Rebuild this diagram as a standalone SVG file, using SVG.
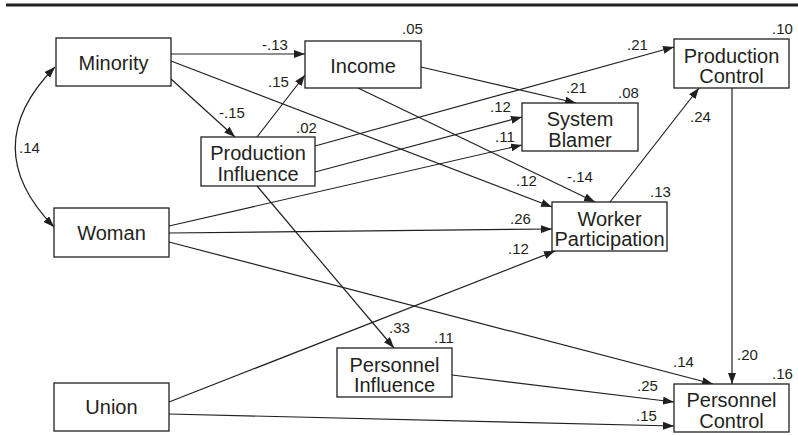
<svg xmlns="http://www.w3.org/2000/svg" width="798" height="436" viewBox="0 0 798 436">
<defs>
<marker id="ah" markerUnits="userSpaceOnUse" markerWidth="12" markerHeight="8" refX="11" refY="4" orient="auto-start-reverse">
<path d="M0,0 L11,4 L0,8 z" fill="#231f20"/>
</marker>
<style>
.box{fill:#fff;stroke:#231f20;stroke-width:1.3}
.nt{font-family:"Liberation Sans",Arial,sans-serif;font-size:20px;fill:#231f20;text-anchor:middle}
.lb{font-family:"Liberation Sans",Arial,sans-serif;font-size:15px;fill:#231f20}
.cn{fill:none;stroke:#231f20;stroke-width:1.2;marker-end:url(#ah)}
</style>
</defs>
<rect width="798" height="436" fill="#fff"/>
<line x1="6" y1="5" x2="798" y2="5" stroke="#231f20" stroke-width="3"/>
<g id="connectors">
<line class="cn" x1="171" y1="54" x2="305" y2="54"/>
<line class="cn" x1="257" y1="137" x2="305" y2="75"/>
<line class="cn" x1="171" y1="79" x2="235" y2="137"/>
<line class="cn" x1="171" y1="61" x2="552" y2="207"/>
<line class="cn" x1="358" y1="88" x2="595" y2="202"/>
<line class="cn" x1="421" y1="67" x2="576" y2="103"/>
<line class="cn" x1="315" y1="146" x2="674" y2="47"/>
<line class="cn" x1="315" y1="172" x2="522" y2="117"/>
<line class="cn" x1="169" y1="226" x2="522" y2="145"/>
<line class="cn" x1="169" y1="233" x2="552" y2="229"/>
<line class="cn" x1="169" y1="242" x2="713" y2="384"/>
<line class="cn" x1="169" y1="402" x2="555" y2="251"/>
<line class="cn" x1="169" y1="414" x2="674" y2="426"/>
<line class="cn" x1="452" y1="375" x2="674" y2="402"/>
<line class="cn" x1="257" y1="186" x2="394" y2="348"/>
<line class="cn" x1="610" y1="202" x2="699" y2="88"/>
<line class="cn" x1="732" y1="88" x2="732" y2="384"/>
<path class="cn" d="M55,67 Q-24,147 54,227" marker-start="url(#ah)"/>
</g>
<g id="labels">
<text class="lb" x="262" y="50">-.13</text>
<text class="lb" x="268" y="87">.15</text>
<text class="lb" x="219" y="118">-.15</text>
<text class="lb" x="296" y="133">.02</text>
<text class="lb" x="19" y="153">.14</text>
<text class="lb" x="402" y="34">.05</text>
<text class="lb" x="627" y="50">.21</text>
<text class="lb" x="772" y="34">.10</text>
<text class="lb" x="566" y="93">.21</text>
<text class="lb" x="618" y="98">.08</text>
<text class="lb" x="490" y="112">.12</text>
<text class="lb" x="495" y="142">.11</text>
<text class="lb" x="690" y="122">.24</text>
<text class="lb" x="516" y="186">.12</text>
<text class="lb" x="567" y="182">-.14</text>
<text class="lb" x="650" y="197">.13</text>
<text class="lb" x="510" y="224">.26</text>
<text class="lb" x="508" y="254">.12</text>
<text class="lb" x="389" y="333">.33</text>
<text class="lb" x="434" y="343">.11</text>
<text class="lb" x="673" y="367">.14</text>
<text class="lb" x="737" y="360">.20</text>
<text class="lb" x="772" y="379">.16</text>
<text class="lb" x="637" y="391">.25</text>
<text class="lb" x="636" y="421">.15</text>
</g>
<g id="minority"><rect class="box" x="56" y="38" width="115" height="48"/><text class="nt" x="113.5" y="70">Minority</text></g>
<g id="income"><rect class="box" x="305" y="41" width="116" height="47"/><text class="nt" x="363" y="73">Income</text></g>
<g id="production-influence"><rect class="box" x="201" y="137" width="114" height="49"/><text class="nt" x="258" y="160">Production</text><text class="nt" x="258" y="180.5">Influence</text></g>
<g id="woman"><rect class="box" x="54" y="208" width="115" height="49"/><text class="nt" x="111.5" y="240">Woman</text></g>
<g id="union"><rect class="box" x="54" y="383" width="115" height="48"/><text class="nt" x="111.5" y="414">Union</text></g>
<g id="personnel-influence"><rect class="box" x="337" y="348" width="115" height="49"/><text class="nt" x="394.5" y="371.5">Personnel</text><text class="nt" x="394.5" y="392">Influence</text></g>
<g id="production-control"><rect class="box" x="674" y="39" width="115" height="49"/><text class="nt" x="731.5" y="62.5">Production</text><text class="nt" x="731.5" y="83">Control</text></g>
<g id="system-blamer"><rect class="box" x="522" y="103" width="116" height="48"/><text class="nt" x="580" y="126">System</text><text class="nt" x="580" y="146.5">Blamer</text></g>
<g id="worker-participation"><rect class="box" x="552" y="202" width="115" height="49"/><text class="nt" x="609.5" y="225.5">Worker</text><text class="nt" x="609.5" y="246">Participation</text></g>
<g id="personnel-control"><rect class="box" x="674" y="384" width="115" height="48"/><text class="nt" x="731.5" y="407">Personnel</text><text class="nt" x="731.5" y="427.5">Control</text></g>
</svg>
